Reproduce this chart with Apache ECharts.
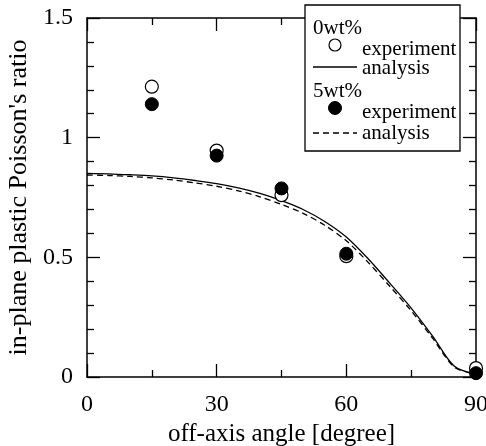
<!DOCTYPE html>
<html>
<head>
<meta charset="utf-8">
<script src="https://cdn.jsdelivr.net/npm/echarts@6/dist/echarts.min.js"></script>
<style>html,body{margin:0;padding:0;background:#fff}#c{width:486px;height:446px}</style>
</head>
<body>
<div id="c"></div>
<script>
// experiment angles
var expAngles = [15, 30, 45, 60, 90];
var exp0wt = [1.213, 0.946, 0.760, 0.505, 0.037];
var exp5wt = [1.140, 0.925, 0.788, 0.515, 0.016];
// analysis curves
var anaAngles = [0, 5, 10, 15, 20, 25, 30, 35, 40, 45, 50, 55, 60, 65, 70, 75, 80, 85, 90];
var ana0wt = [0.851, 0.849, 0.845, 0.840, 0.832, 0.821, 0.808, 0.790, 0.767, 0.737, 0.700, 0.650, 0.585, 0.495, 0.393, 0.288, 0.170, 0.045, 0.012];
var ana5wt = [0.844, 0.842, 0.838, 0.832, 0.823, 0.811, 0.797, 0.778, 0.753, 0.721, 0.684, 0.634, 0.569, 0.480, 0.380, 0.277, 0.161, 0.041, 0.012];
var xTicks = [0, 30, 60, 90];
var yTicks = [0, 0.5, 1, 1.5];

function pairs(xs, ys) { return xs.map(function (x, i) { return [x, ys[i]]; }); }

var FONT = 'Liberation Serif';
var chart = echarts.init(document.getElementById('c'), null, {renderer: 'canvas'});

function xAx(pos, labels) {
  return {
    type: 'value', position: pos, min: xTicks[0], max: xTicks[xTicks.length - 1], interval: xTicks[1] - xTicks[0],
    axisLine: {show: true, onZero: false, lineStyle: {color: '#000', width: 1.5}},
    axisTick: {show: true, inside: true, length: 13, lineStyle: {color: '#000', width: 1.3}},
    minorTick: {show: true, splitNumber: 2, length: 7, lineStyle: {color: '#000', width: 1.3}},
    splitLine: {show: false}, minorSplitLine: {show: false},
    axisLabel: {show: labels, margin: 16, color: '#000', fontFamily: FONT, fontSize: 24},
    name: labels ? 'off-axis angle [degree]' : '', nameLocation: 'middle', nameGap: 45,
    nameTextStyle: {color: '#000', fontFamily: FONT, fontSize: 25}
  };
}
function yAx(pos, labels) {
  return {
    type: 'value', position: pos, min: yTicks[0], max: yTicks[yTicks.length - 1], interval: yTicks[1] - yTicks[0],
    axisLine: {show: true, onZero: false, lineStyle: {color: '#000', width: 1.5}},
    axisTick: {show: true, inside: true, length: 13, lineStyle: {color: '#000', width: 1.3}},
    minorTick: {show: true, splitNumber: 5, length: 7, lineStyle: {color: '#000', width: 1.3}},
    splitLine: {show: false}, minorSplitLine: {show: false},
    axisLabel: {show: labels, margin: 14, color: '#000', fontFamily: FONT, fontSize: 24},
    name: labels ? "in-plane plastic Poisson's ratio" : '', nameLocation: 'middle', nameGap: 55,
    nameTextStyle: {color: '#000', fontFamily: FONT, fontSize: 26}
  };
}

var lx = 305, ly = 5;
var legend = [
  {type: 'rect', shape: {x: lx, y: ly, width: 155, height: 146}, style: {fill: '#fff', stroke: '#000', lineWidth: 1.3}, z: 100},
  {type: 'text', x: 313, y: 28, style: {text: '0wt%', font: '21px ' + FONT, fill: '#000', textVerticalAlign: 'middle', verticalAlign: 'middle'}, z: 101},
  {type: 'circle', shape: {cx: 335, cy: 45, r: 6}, style: {fill: '#fff', stroke: '#000', lineWidth: 1.2}, z: 101},
  {type: 'text', x: 362, y: 49, style: {text: 'experiment', font: '21px ' + FONT, fill: '#000', textVerticalAlign: 'middle', verticalAlign: 'middle'}, z: 101},
  {type: 'line', shape: {x1: 313, y1: 67, x2: 357, y2: 67}, style: {stroke: '#000', lineWidth: 1.3}, z: 101},
  {type: 'text', x: 362, y: 68, style: {text: 'analysis', font: '21px ' + FONT, fill: '#000', textVerticalAlign: 'middle', verticalAlign: 'middle'}, z: 101},
  {type: 'text', x: 313, y: 91, style: {text: '5wt%', font: '21px ' + FONT, fill: '#000', textVerticalAlign: 'middle', verticalAlign: 'middle'}, z: 101},
  {type: 'circle', shape: {cx: 335, cy: 108, r: 6.5}, style: {fill: '#000', stroke: '#000', lineWidth: 1}, z: 101},
  {type: 'text', x: 362, y: 112, style: {text: 'experiment', font: '21px ' + FONT, fill: '#000', textVerticalAlign: 'middle', verticalAlign: 'middle'}, z: 101},
  {type: 'line', shape: {x1: 313, y1: 133, x2: 357, y2: 133}, style: {stroke: '#000', lineWidth: 1.3, lineDash: [6, 4]}, z: 101},
  {type: 'text', x: 362, y: 133, style: {text: 'analysis', font: '21px ' + FONT, fill: '#000', textVerticalAlign: 'middle', verticalAlign: 'middle'}, z: 101}
];

chart.setOption({
  animation: false,
  backgroundColor: '#fff',
  grid: {left: 87, right: 10, top: 18, bottom: 69, containLabel: false, outerBoundsMode: 'none'},
  xAxis: [xAx('bottom', true), xAx('top', false)],
  yAxis: [yAx('left', true), yAx('right', false)],
  graphic: {elements: legend},
  series: [
    {type: 'line', data: pairs(anaAngles, ana0wt), smooth: 0.3, showSymbol: false, symbol: 'none',
     lineStyle: {color: '#000', width: 1.3, type: 'solid'}, z: 2},
    {type: 'line', data: pairs(anaAngles, ana5wt), smooth: 0.3, showSymbol: false, symbol: 'none',
     lineStyle: {color: '#000', width: 1.3, type: [6, 4]}, z: 2},
    {type: 'scatter', data: pairs(expAngles, exp0wt), symbol: 'circle', symbolSize: 13,
     itemStyle: {color: '#fff', borderColor: '#000', borderWidth: 1.2, opacity: 1}, z: 3},
    {type: 'scatter', data: pairs(expAngles, exp5wt), symbol: 'circle', symbolSize: 13,
     itemStyle: {color: '#000', borderColor: '#000', borderWidth: 1, opacity: 1}, z: 4}
  ]
});
</script>
</body>
</html>
